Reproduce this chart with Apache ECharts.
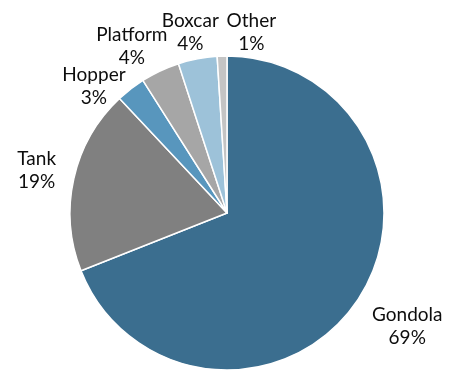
<!DOCTYPE html>
<html>
<head>
<meta charset="utf-8">
<script src="https://cdn.jsdelivr.net/npm/echarts@6/dist/echarts.min.js"></script>
<style>
  html, body { margin: 0; padding: 0; background: #fff; }
  #chart { width: 449px; height: 370px; }
</style>
</head>
<body>
<div id="chart"></div>
<script>
// Rail car fleet share by car type
const carTypes = ['Gondola', 'Tank', 'Hopper', 'Platform', 'Boxcar', 'Other'];
const shares = [69, 19, 3, 4, 4, 1];
const sliceColors = ['#3b6e8f', '#808080', '#5896bd', '#a6a6a6', '#9dc2d9', '#c4c4c4'];

// Label placement: distance of label centre from pie centre, plus an angular nudge (deg)
const labelDist = [213, 195, 184, 192, 184, 182];
const labelNudge = [-2, 0, -8.5, -4.5, -0.7, 9.5];

const CX = 227, CY = 213, R = 157;
const total = shares.reduce((a, b) => a + b, 0);
const midAngles = [];
let acc = 0;
shares.forEach(v => { midAngles.push((acc + v / 2) / total * 360); acc += v; });

const chart = echarts.init(document.getElementById('chart'));
chart.setOption({
  animation: false,
  series: [{
    type: 'pie',
    center: [CX, CY],
    radius: [0, R],
    startAngle: 90,
    clockwise: true,
    data: carTypes.map((name, i) => ({
      name, value: shares[i], itemStyle: { color: sliceColors[i] }
    })),
    itemStyle: { borderColor: '#ffffff', borderWidth: 1.5 },
    label: {
      show: true,
      position: 'outside',
      formatter: p => p.name + '\n' + p.value + '%',
      fontFamily: 'Lato, "Open Sans", sans-serif',
      fontSize: 19,
      lineHeight: 23,
      color: '#0d0d0d',
      align: 'center',
      overflow: 'none',
      width: 120
    },
    labelLine: { show: false },
    emphasis: { disabled: true },
    labelLayout: function (params) {
      const i = params.dataIndex;
      const a = (midAngles[i] + labelNudge[i]) * Math.PI / 180;
      return {
        x: CX + labelDist[i] * Math.sin(a),
        y: CY - labelDist[i] * Math.cos(a),
        align: 'center',
        verticalAlign: 'middle'
      };
    }
  }]
});
</script>
</body>
</html>
